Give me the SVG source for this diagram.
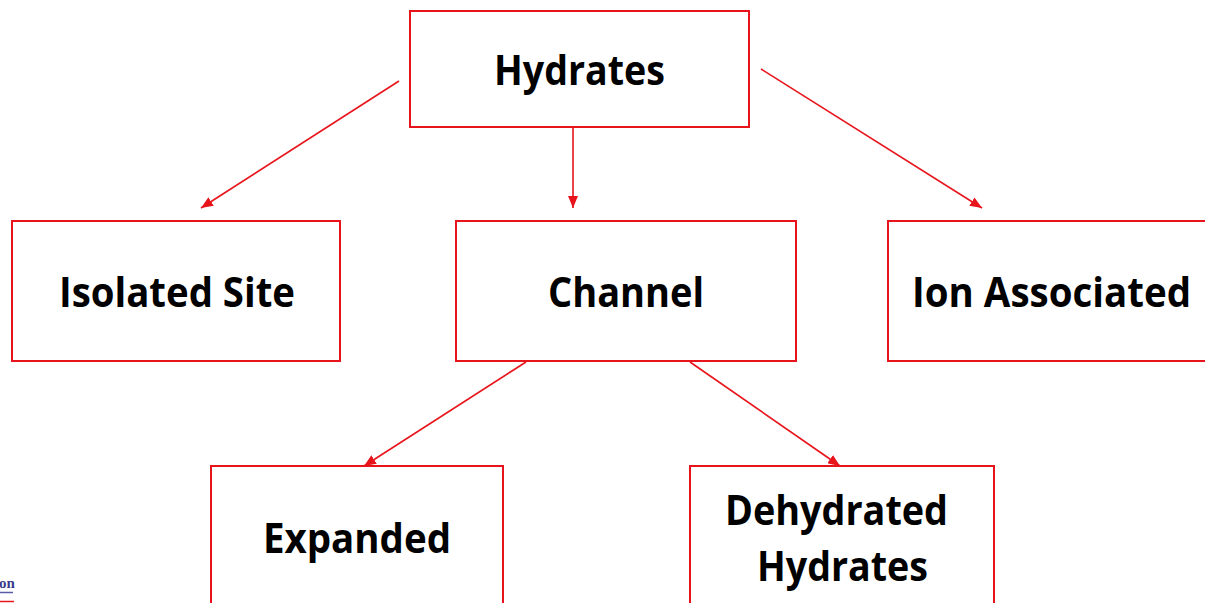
<svg xmlns="http://www.w3.org/2000/svg" width="1205" height="603" viewBox="0 0 1205 603">
<style>
.box{fill:#fff;stroke:#e8141b;stroke-width:2}
.lbl{font-family:"Open Sans","Liberation Sans",sans-serif;font-weight:bold;font-size:42px;fill:#000;text-anchor:start}
.con{stroke:#e8141b;stroke-width:1.6;fill:none;marker-end:url(#ah)}
</style>
<defs>
<marker id="ah" viewBox="0 0 10 10" refX="9" refY="5" markerWidth="8" markerHeight="8" markerUnits="userSpaceOnUse" orient="auto">
<path d="M0,0 L10,5 L0,10 z" fill="#e8141b"/>
</marker>
<marker id="ah2" viewBox="0 0 12 10" refX="12" refY="5" markerWidth="12" markerHeight="10" markerUnits="userSpaceOnUse" orient="auto">
<path d="M0,0 L12,5 L0,10 z" fill="#e8141b"/>
</marker>
</defs>
<rect width="1205" height="603" fill="#fff"/>
<g id="connectors">
<line x1="399" y1="81" x2="201" y2="208" stroke="#e8141b" stroke-width="1.6" marker-end="url(#ah2)"/>
<line x1="573" y1="128" x2="573" y2="208" stroke="#e8141b" stroke-width="1.6" marker-end="url(#ah2)"/>
<line x1="761" y1="69" x2="982" y2="208" stroke="#e8141b" stroke-width="1.6" marker-end="url(#ah2)"/>
<line x1="526" y1="362" x2="364" y2="466" stroke="#e8141b" stroke-width="1.6" marker-end="url(#ah2)"/>
<line x1="690" y1="362" x2="840" y2="466" stroke="#e8141b" stroke-width="1.6" marker-end="url(#ah2)"/>
</g>
<g id="hydrates">
<rect class="box" x="410" y="11" width="339" height="116"/>
<text class="lbl" x="494" y="85" textLength="171" lengthAdjust="spacingAndGlyphs">Hydrates</text>
</g>
<g id="isolated-site">
<rect class="box" x="12" y="221" width="328" height="140"/>
<text class="lbl" x="59" y="307" textLength="236" lengthAdjust="spacingAndGlyphs">Isolated Site</text>
</g>
<g id="channel">
<rect class="box" x="456" y="221" width="340" height="140"/>
<text class="lbl" x="548" y="307" textLength="156" lengthAdjust="spacingAndGlyphs">Channel</text>
</g>
<g id="ion-associated">
<rect class="box" x="888" y="221" width="330" height="140"/>
<text class="lbl" x="912" y="307" textLength="279" lengthAdjust="spacingAndGlyphs">Ion Associated</text>
</g>
<g id="expanded">
<rect class="box" x="211" y="466" width="292" height="150"/>
<text class="lbl" x="263" y="553" textLength="188" lengthAdjust="spacingAndGlyphs">Expanded</text>
</g>
<g id="dehydrated-hydrates">
<rect class="box" x="690" y="466" width="304" height="150"/>
<text class="lbl" x="725" y="525" textLength="223" lengthAdjust="spacingAndGlyphs">Dehydrated</text>
<text class="lbl" x="757" y="581" textLength="171" lengthAdjust="spacingAndGlyphs">Hydrates</text>
</g>
<g id="fragment">
<text x="-1" y="588" font-family="Liberation Serif,serif" font-weight="bold" font-size="15" fill="#3a3a8c">on</text>
<line x1="0" y1="592.5" x2="13" y2="592.5" stroke="#5a5aa8" stroke-width="1.5"/>
<line x1="0" y1="601.5" x2="14" y2="601.5" stroke="#e8141b" stroke-width="1.5"/>
</g>
</svg>
